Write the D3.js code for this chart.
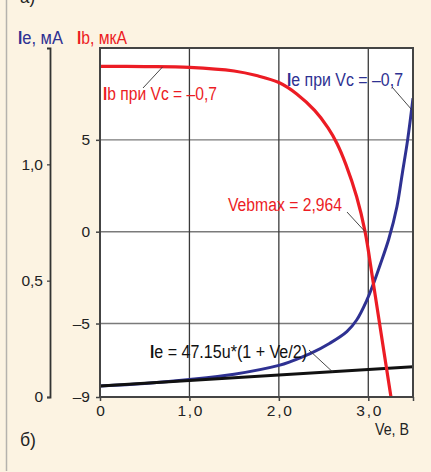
<!DOCTYPE html>
<html>
<head>
<meta charset="utf-8">
<script src="https://cdn.jsdelivr.net/npm/d3@7"></script>
<style>
  html, body { margin: 0; padding: 0; background: #fcf3e2; }
  svg { display: block; }
  text { font-family: "Liberation Sans Narrow", "Liberation Sans", "DejaVu Sans Condensed", sans-serif; }
</style>
</head>
<body>
<svg id="chart" width="431" height="472"></svg>
<script>
// Emitter voltage, V
const veTicks = [0, 1, 2, 3, 3.5];
const veTickLabels = ["0", "1,0", "2,0", "3,0", ""];

// Base current Ib (µA) at Vc = -0.7
const ibVe = [0, 0.5, 1.0, 1.5, 1.75, 2.0, 2.2, 2.4, 2.55, 2.65, 2.75, 2.87, 2.964, 3.05, 3.15, 3.26];
const ibVal = [9.0, 8.99, 8.95, 8.75, 8.5, 8.12, 7.5, 6.6, 5.65, 4.8, 3.65, 1.9, 0, -2.6, -5.75, -9.2];

// Emitter current Ie (mA) at Vc = -0.7
const ieVe = [0, 0.5, 1.0, 1.5, 2.0, 2.13, 2.35, 2.57, 2.76, 2.87, 2.985, 3.06, 3.13, 3.23, 3.32, 3.38, 3.44, 3.5];
const ieVal = [0.047, 0.058, 0.075, 0.098, 0.136, 0.152, 0.186, 0.231, 0.281, 0.331, 0.417, 0.489, 0.565, 0.68, 0.818, 0.96, 1.105, 1.284];

// Ie = 47.15u*(1 + Ve/2), in mA, at both ends of the Ve range
const leakVe = [0, 3.5];
const leakVal = [0.04715, 0.04715 * 2.75];

// Axis ticks
const ibTicks = [-9, -5, 0, 5];
const ibTickLabels = ["–9", "–5", "0", "5"];
const ieTicks = [0, 0.5, 1.0];
const ieTickLabels = ["0", "0,5", "1,0"];

const RED = "#ec1c24";
const BLUE = "#2e3192";
const GRID_V = "#3a3a3a";
const GRID_H = "#7a7a7a";

const svg = d3.select("#chart");

const plot = { left: 100, right: 413, top: 48, bottom: 397 };

const x = d3.scaleLinear().domain([0, 3.5]).range([plot.left, plot.right]);
const yIb = d3.scaleLinear().domain([-9, 10]).range([plot.bottom, plot.top]);
const yIe = d3.scaleLinear().domain([0, 1.5]).range([plot.bottom, plot.top]);

// left page rule
svg.append("line")
  .attr("x1", 6.5).attr("x2", 6.5).attr("y1", 0).attr("y2", 471)
  .attr("stroke", "#b5b2ad").attr("stroke-width", 1.5);

// Text helper: an optional bold current symbol "I" leads, the rest is
// squeezed to the given width to get a condensed face.
function label(g, px, py, lead, rest, color, size, width) {
  let off = 0;
  if (lead) {
    const li = g.append("text").attr("x", px).attr("y", py)
      .attr("font-size", size).attr("fill", color)
      .attr("font-weight", "bold").text(lead);
    off = li.node().getComputedTextLength() * 0.85;
    li.attr("textLength", off).attr("lengthAdjust", "spacingAndGlyphs");
  }
  const t = g.append("text").attr("x", px + off).attr("y", py)
    .attr("font-size", size).attr("fill", color).text(rest);
  if (width) t.attr("textLength", width - off).attr("lengthAdjust", "spacingAndGlyphs");
  return t;
}

// panel letters
label(svg, 20, 3, null, "а)", "#222", 18, 15);
label(svg, 20, 446, null, "б)", "#222", 18, 16);

// plot area
svg.append("rect")
  .attr("x", plot.left).attr("y", plot.top)
  .attr("width", plot.right - plot.left).attr("height", plot.bottom - plot.top)
  .attr("fill", "#fff");

svg.append("clipPath").attr("id", "plotClip")
  .append("rect")
  .attr("x", plot.left).attr("y", plot.top)
  .attr("width", plot.right - plot.left).attr("height", plot.bottom - plot.top);

// grid
const grid = svg.append("g");
grid.selectAll("line.h").data([-5, 0, 5]).join("line")
  .attr("x1", plot.left).attr("x2", plot.right)
  .attr("y1", d => yIb(d)).attr("y2", d => yIb(d))
  .attr("stroke", GRID_H).attr("stroke-width", 1.4);
grid.selectAll("line.v").data([1, 2, 3]).join("line")
  .attr("y1", plot.top).attr("y2", plot.bottom)
  .attr("x1", d => x(d)).attr("x2", d => x(d))
  .attr("stroke", GRID_V).attr("stroke-width", 1.3);

// curves
const curves = svg.append("g").attr("clip-path", "url(#plotClip)");

const ieLine = d3.line().x(d => x(d[0])).y(d => yIe(d[1])).curve(d3.curveCatmullRom.alpha(0.5));
const ibLine = d3.line().x(d => x(d[0])).y(d => yIb(d[1])).curve(d3.curveCatmullRom.alpha(0.5));

curves.append("path")
  .datum(ieVe.map((v, i) => [v, ieVal[i]]))
  .attr("d", ieLine)
  .attr("fill", "none").attr("stroke", BLUE).attr("stroke-width", 3);

curves.append("path")
  .datum(leakVe.map((v, i) => [v, leakVal[i]]))
  .attr("d", d3.line().x(d => x(d[0])).y(d => yIe(d[1])))
  .attr("fill", "none").attr("stroke", "#111").attr("stroke-width", 3);

curves.append("path")
  .datum(ibVe.map((v, i) => [v, ibVal[i]]))
  .attr("d", ibLine)
  .attr("fill", "none").attr("stroke", RED).attr("stroke-width", 3.2);

// plot frame
svg.append("rect")
  .attr("x", plot.left).attr("y", plot.top)
  .attr("width", plot.right - plot.left).attr("height", plot.bottom - plot.top)
  .attr("fill", "none").attr("stroke", "#444").attr("stroke-width", 2);

// bottom Ve axis
const xAxis = d3.axisBottom(x)
  .tickValues(veTicks)
  .tickFormat((d, i) => veTickLabels[i])
  .tickSize(4).tickSizeOuter(0).tickPadding(3);
const gx = svg.append("g").attr("transform", `translate(0,${plot.bottom})`).call(xAxis);
gx.select(".domain").remove();
gx.selectAll(".tick line").attr("stroke", "#444").attr("stroke-width", 1.5);
gx.selectAll(".tick text").attr("font-size", 15.5).attr("fill", "#222")
  .attr("font-family", null).attr("dy", "0.75em");
gx.selectAll(".tick text").filter(function () { return this.textContent.length > 1; })
  .attr("textLength", 25).attr("lengthAdjust", "spacing");

// Ib axis (right scale, drawn on the plot's left edge)
const ibAxis = d3.axisLeft(yIb)
  .tickValues(ibTicks)
  .tickFormat((d, i) => ibTickLabels[i])
  .tickSize(4).tickSizeOuter(0).tickPadding(6);
const gib = svg.append("g").attr("transform", `translate(${plot.left},0)`).call(ibAxis);
gib.select(".domain").remove();
gib.selectAll(".tick line").attr("stroke", "#444").attr("stroke-width", 1.5);
gib.selectAll(".tick text").attr("font-size", 15.5).attr("fill", "#222").attr("font-family", null);

// Ie axis
const ieAxis = d3.axisLeft(yIe)
  .tickValues(ieTicks)
  .tickFormat((d, i) => ieTickLabels[i])
  .tickSize(3).tickSizeOuter(3).tickPadding(4);
const gie = svg.append("g").attr("transform", "translate(50,0)").call(ieAxis);
gie.select(".domain").attr("stroke", "#333").attr("stroke-width", 1.8);
gie.selectAll(".tick line").attr("stroke", "#444").attr("stroke-width", 1.3);
gie.selectAll(".tick text").attr("font-size", 15.5).attr("fill", "#222").attr("font-family", null);

// axis titles
label(svg, 18, 44, "I", "e, мА", BLUE, 18, 45);
label(svg, 77, 44, "I", "b, мкА", RED, 18, 50);
label(svg, 375, 435, null, "Ve, В", "#222", 16.5, 34);

// annotations with leader lines
const notes = svg.append("g");
function leader(x1, y1, x2, y2) {
  notes.append("line").attr("x1", x1).attr("y1", y1).attr("x2", x2).attr("y2", y2)
    .attr("stroke", "#333").attr("stroke-width", 0.9);
}

leader(143, 88, x(0.7), yIb(8.97));
label(notes, 103, 100, "I", "b при Vc = –0,7", RED, 18, 114);

leader(392, 87, x(3.485), yIe(1.235));
label(notes, 287, 86, "I", "e при Vc = –0,7", BLUE, 18, 116);

leader(347, 212, x(2.964), yIb(0));
label(notes, 228, 211, null, "Vebmax = 2,964", RED, 18, 114);

leader(309, 350, x(2.6), yIe(0.04715 * 2.3));
label(notes, 150, 358, "I", "e = 47.15u*(1 + Ve/2)", "#111", 18, 157);
</script>
</body>
</html>
